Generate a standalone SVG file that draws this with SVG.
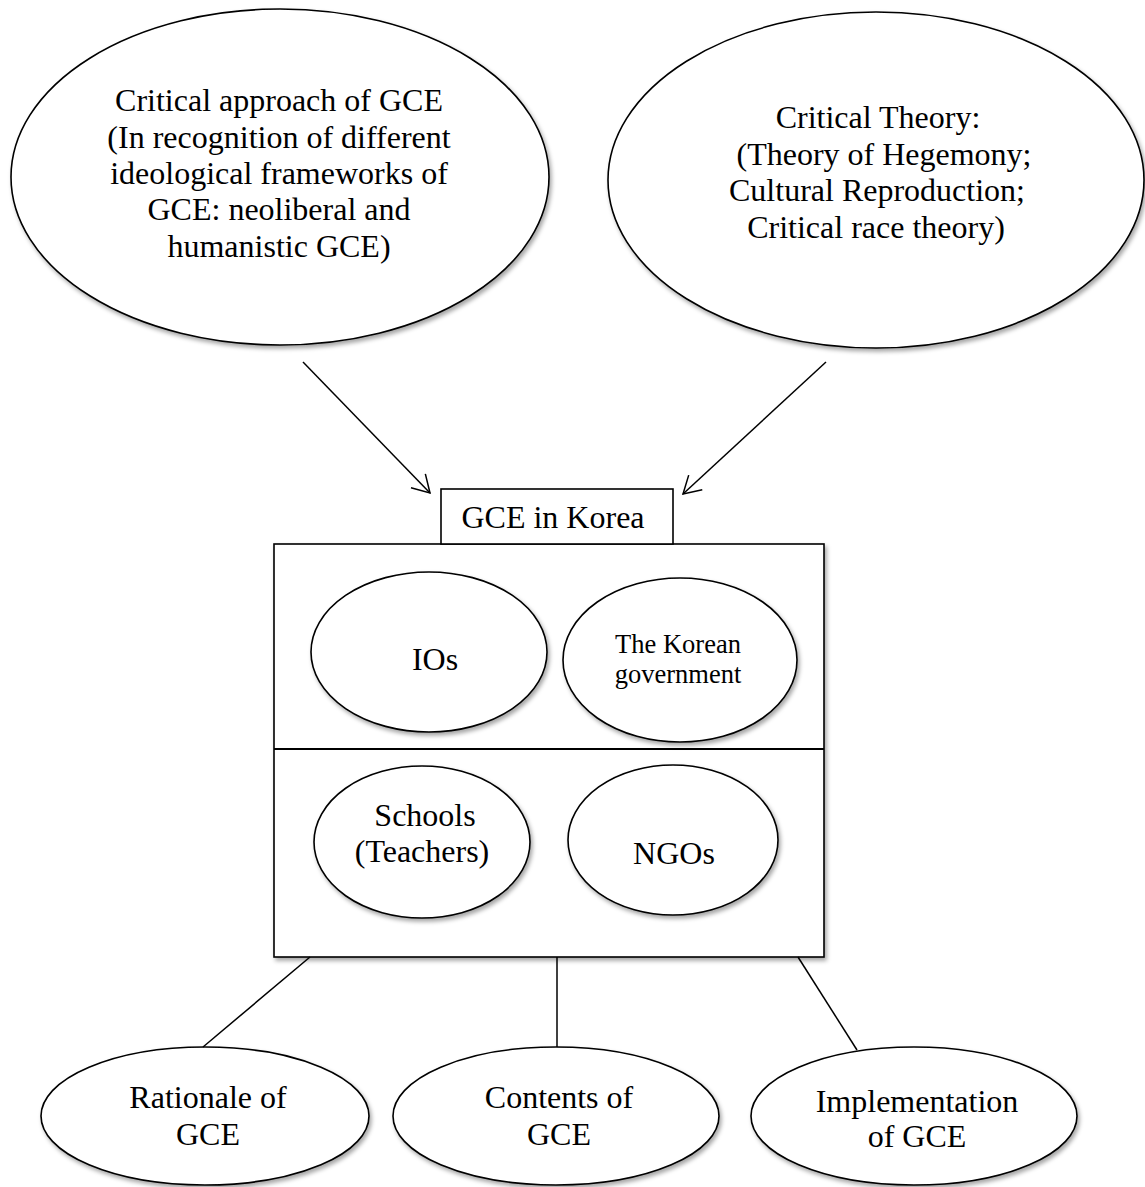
<svg xmlns="http://www.w3.org/2000/svg" width="1145" height="1187" viewBox="0 0 1145 1187">
<style>
.n{fill:#fff;stroke:#000;stroke-width:1.6}
.t{font-family:"Liberation Serif","Times New Roman",serif;font-size:32px;fill:#000;text-anchor:middle}
.s{font-size:26.5px}
.c{stroke:#000;stroke-width:1.5;fill:none}
</style>
<defs>
<filter id="sh" x="-10%" y="-10%" width="120%" height="125%">
<feDropShadow dx="2" dy="3" stdDeviation="2" flood-color="#000" flood-opacity="0.35"/>
</filter>
<marker id="ah" markerWidth="24" markerHeight="24" refX="18" refY="11" orient="auto" markerUnits="userSpaceOnUse">
<path d="M1,1 L18,11 L1,21" fill="none" stroke="#000" stroke-width="1.5"/>
</marker>
</defs>
<g id="n1"><ellipse class="n" filter="url(#sh)" cx="280" cy="177" rx="269" ry="168"/>
<text class="t" x="279" y="111">Critical approach of GCE</text>
<text class="t" x="279" y="148">(In recognition of different</text>
<text class="t" x="279" y="184">ideological frameworks of</text>
<text class="t" x="279" y="220">GCE: neoliberal and</text>
<text class="t" x="279" y="257">humanistic GCE)</text></g>
<g id="n2"><ellipse class="n" filter="url(#sh)" cx="876" cy="180" rx="268" ry="168"/>
<text class="t" x="878" y="128">Critical Theory:</text>
<text class="t" x="884" y="165">(Theory of Hegemony;</text>
<text class="t" x="877" y="201">Cultural Reproduction;</text>
<text class="t" x="876" y="238">Critical race theory)</text></g>
<g id="box"><rect class="n" filter="url(#sh)" x="274" y="544" width="550" height="413"/>
<line x1="274" y1="749" x2="824" y2="749" stroke="#000" stroke-width="2"/></g>
<g id="n3"><rect class="n" x="441" y="489" width="232" height="55"/>
<text class="t" x="553" y="528">GCE in Korea</text></g>
<g id="n4"><ellipse class="n" filter="url(#sh)" cx="429" cy="652" rx="118" ry="80"/>
<text class="t" x="435" y="670">IOs</text></g>
<g id="n5"><ellipse class="n" filter="url(#sh)" cx="680" cy="660" rx="117" ry="82"/>
<text class="t s" x="678" y="653">The Korean</text>
<text class="t s" x="678" y="683">government</text></g>
<g id="n6"><ellipse class="n" filter="url(#sh)" cx="422" cy="842" rx="108" ry="76"/>
<text class="t" x="425" y="826">Schools</text>
<text class="t" x="422" y="862">(Teachers)</text></g>
<g id="n7"><ellipse class="n" filter="url(#sh)" cx="673" cy="840" rx="105" ry="75"/>
<text class="t" x="674" y="864">NGOs</text></g>
<g id="n8"><ellipse class="n" filter="url(#sh)" cx="205" cy="1116" rx="164" ry="69"/>
<text class="t" x="208" y="1108">Rationale of</text>
<text class="t" x="208" y="1145">GCE</text></g>
<g id="n9"><ellipse class="n" filter="url(#sh)" cx="556" cy="1116" rx="163" ry="69"/>
<text class="t" x="559" y="1108">Contents of</text>
<text class="t" x="559" y="1145">GCE</text></g>
<g id="n10"><ellipse class="n" filter="url(#sh)" cx="914" cy="1116" rx="163" ry="69"/>
<text class="t" x="917" y="1112">Implementation</text>
<text class="t" x="917" y="1147">of GCE</text></g>
<g id="connectors">
<line class="c" x1="303" y1="362" x2="430" y2="493" marker-end="url(#ah)"/>
<line class="c" x1="826" y1="362" x2="683" y2="494" marker-end="url(#ah)"/>
<line class="c" x1="310" y1="957" x2="203" y2="1047"/>
<line class="c" x1="557" y1="957" x2="557" y2="1047"/>
<line class="c" x1="798" y1="957" x2="857" y2="1050"/>
</g>
</svg>
